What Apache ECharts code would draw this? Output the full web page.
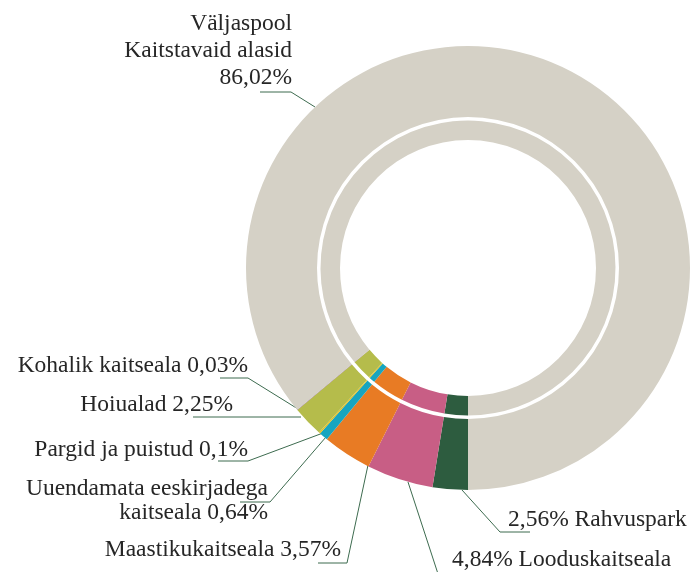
<!DOCTYPE html>
<html>
<head>
<meta charset="utf-8">
<script src="https://cdn.jsdelivr.net/npm/echarts@6/dist/echarts.min.js"></script>
<style>
  html, body { margin: 0; padding: 0; background: #fff; }
  #chart { width: 697px; height: 572px; }
</style>
</head>
<body>
<div id="chart"></div>
<script>
// slices, clockwise from the bottom of the ring
var names = [
  "Rahvuspark",
  "Looduskaitseala",
  "Maastikukaitseala",
  "Uuendamata eeskirjadega kaitseala",
  "Pargid ja puistud",
  "Hoiualad",
  "Kohalik kaitseala",
  "Väljaspool Kaitstavaid alasid",
];
var values = [2.56, 4.84, 3.57, 0.64, 0.1, 2.25, 0.03, 86.02];
// label text, # is replaced by the value
var labelTexts = [
  "# Rahvuspark",
  "# Looduskaitseala",
  "Maastikukaitseala #",
  "Uuendamata eeskirjadega\nkaitseala #",
  "Pargid ja puistud #",
  "Hoiualad #",
  "Kohalik kaitseala #",
  "Väljaspool\nKaitstavaid alasid\n#",
];
var colors = [
  "#2d5c3f",
  "#c85e85",
  "#e87b24",
  "#17a5bf",
  "#e7c11e",
  "#b5bc4b",
  "#8a5a8c",
  "#d5d1c6",
];

// where each label sits and how its leader line runs
var labelPos = [
  { x: 508, y: 520, align: "left", pts: [[462, 490], [500, 532], [530, 532]] },
  { x: 452, y: 560, align: "left", pts: [[408, 482], [441, 583], [470, 583]] },
  { x: 341, y: 550, align: "right", pts: [[368, 465], [347, 563], [318, 563]] },
  { x: 268, y: 501, align: "right", pts: [[326, 437], [270, 502], [240, 502]] },
  { x: 248, y: 450, align: "right", pts: [[323, 433], [248, 461], [218, 461]] },
  { x: 233, y: 405, align: "right", pts: [[301, 417], [250, 417], [193, 417]] },
  { x: 248, y: 366, align: "right", pts: [[298, 409], [248, 378], [220, 378]] },
  { x: 292, y: 51, align: "right", pts: [[315, 107], [291, 92], [260, 92]] },
];

function fmt(v) {
  return String(v).replace(".", ",") + "%";
}

var pieData = names.map(function (n, i) {
  return {
    name: n,
    value: values[i],
    itemStyle: { color: colors[i] },
    label: { lineHeight: i === 3 ? 24 : 27 },
  };
});

var myChart = echarts.init(document.getElementById("chart"));

var option = {
  animation: false,
  series: [
    {
      type: "pie",
      center: [468, 268],
      radius: [151, 222],
      startAngle: -90,
      clockwise: true,
      avoidLabelOverlap: false,
      data: pieData,
      label: {
        show: true,
        fontFamily: "Liberation Serif",
        fontSize: 23.5,
        color: "#262626",
        formatter: function (p) {
          return labelTexts[p.dataIndex].replace("#", fmt(p.value));
        },
      },
      labelLine: {
        show: true,
        lineStyle: { color: "#3d6b4f", width: 1 },
      },
      labelLayout: function (p) {
        var l = labelPos[p.dataIndex];
        return {
          x: l.x,
          y: l.y,
          align: l.align,
          verticalAlign: "middle",
          labelLinePoints: l.pts,
        };
      },
      emphasis: { disabled: true },
    },
    {
      type: "pie",
      center: [468, 268],
      radius: [128, 147.5],
      startAngle: -90,
      clockwise: true,
      silent: true,
      data: pieData,
      label: { show: false },
      labelLine: { show: false },
      emphasis: { disabled: true },
    },
  ],
};

myChart.setOption(option);
window.addEventListener("resize", function () {
  myChart.resize();
});
</script>
</body>
</html>
